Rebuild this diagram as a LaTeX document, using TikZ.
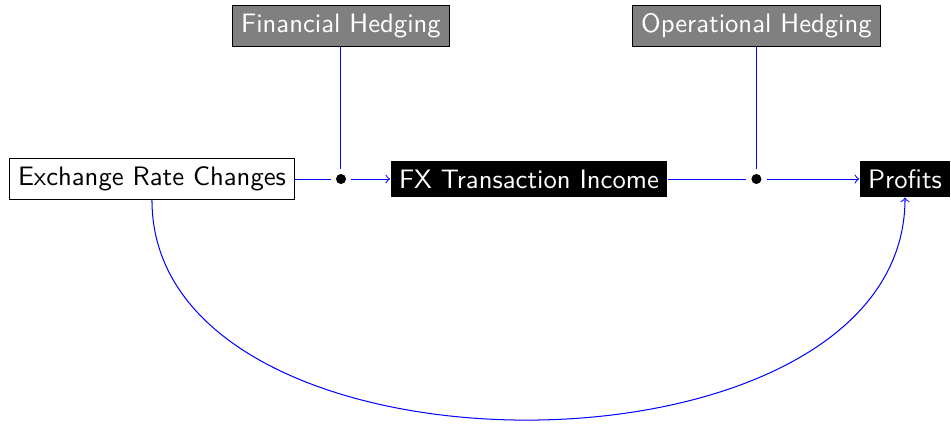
\documentclass[tikz,border=0pt]{standalone}
\usetikzlibrary{positioning}
\renewcommand{\familydefault}{\sfdefault}
\tikzset{
  every node/.style={font=\fontsize{10.5}{12.6}\selectfont},
  plainbox/.style={draw, fill=white, text=black},
  hedgebox/.style={draw, fill=gray, text=white},
  darkbox/.style={fill=black, text=white},
  junction/.style={circle, fill=black, inner sep=1.4pt, outer sep=2pt},
  link/.style={blue}
}
\begin{document}
\begin{tikzpicture}
        \useasboundingbox (-2.102,-3.375) rectangle (11.051,2.476);
        % main chain
        \node[plainbox] (erc) at (0,0) {Exchange Rate Changes};
        \node[junction] (j1) at (2.614,0) {};
        \node[darkbox] (fx) at (5.214,0) {FX Transaction Income};
        \node[junction] (j2) at (8.36,0) {};
        \node[darkbox] (prof) at (10.415,0) {Profits};
        % hedging
        \node[hedgebox] (fin) at (2.614,2.116) {Financial Hedging};
        \node[hedgebox] (ops) at (8.36,2.116) {Operational Hedging};
        \draw[link] (erc) -- (j1);
        \draw[link,->] (j1) -- (fx);
        \draw[link] (fx) -- (j2);
        \draw[link,->] (j2) -- (prof);
        \draw[link] (fin) -- (j1);
        \draw[link] (ops) -- (j2);
        % direct effect
        \draw[link,->] (erc.south) to[out=-90,in=-90] (prof.south);
      \end{tikzpicture}
\end{document}
